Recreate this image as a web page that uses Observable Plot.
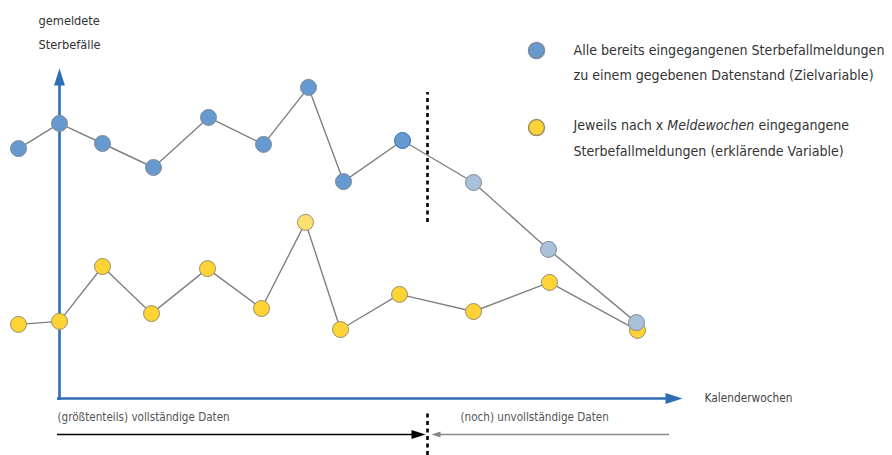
<!DOCTYPE html>
<html>
<head>
<meta charset="utf-8">
<script src="https://cdn.jsdelivr.net/npm/d3@7"></script>
<script src="https://cdn.jsdelivr.net/npm/@observablehq/plot@0.6"></script>
<style>
  html, body { margin: 0; padding: 0; background: #fff; }
  #chart svg { display: block; font-stretch: condensed; }
</style>
</head>
<body>
<div id="chart"></div>
<script>
// Calendar weeks (schematic units, 0 = origin of the axes)
const weeksBlue   = [-0.82, 0, 0.86, 1.88, 2.98, 4.08, 4.98, 5.68, 6.86, 8.28, 9.78, 11.54];
const valuesBlue  = [83.3, 91.7, 85, 77, 93.7, 84.7, 103.7, 72.3, 86, 72, 49.7, 25.3];
const weeksYellow = [-0.82, 0, 0.86, 1.84, 2.96, 4.04, 4.92, 5.62, 6.8, 8.28, 9.8, 11.56];
const valuesYellow = [24.7, 25.7, 44, 28.3, 43.3, 30, 58.7, 23, 34.7, 29, 38.7, 22.7];
// status of each week: complete data or (still) incomplete
const statusBlue   = ["c","c","c","c","c","c","c","c","h","i","i","i"];
const statusYellow = ["c","c","c","c","c","c","l","c","c","c","c","c"];

const yAxisLabel = ["gemeldete", "Sterbefälle"];
const xAxisLabel = "Kalenderwochen";
const legendBlue = ["Alle bereits eingegangenen Sterbefallmeldungen", "zu einem gegebenen Datenstand (Zielvariable)"];
const legendYellow = ["Jeweils nach x Meldewochen eingegangene", "Sterbefallmeldungen (erklärende Variable)"];
const labelComplete = "(größtenteils) vollständige Daten";
const labelIncomplete = "(noch) unvollständige Daten";

// annotation anchors (in data units)
const cutWeek = 7.36;
const axisTopValue = 110;
const axisEndWeek = 12.46;

const blue = weeksBlue.map((w, i) => ({week: w, value: valuesBlue[i], status: statusBlue[i]}));
const yellow = weeksYellow.map((w, i) => ({week: w, value: valuesYellow[i], status: statusYellow[i]}));

const blueFill = {c: "#6699cf", h: "#6699cf", i: "#a9c1da"};
const blueStroke = {c: "#7f8a96", h: "#2f6fbf", i: "#7f8a96"};
const yellowFill = {c: "#fdd335", l: "#fde072"};

// elongated triangle, tip at origin, pointing up
const headSymbol = {
  draw(ctx, size) {
    const r = Math.sqrt(size / Math.PI);
    ctx.moveTo(0, 0);
    ctx.lineTo(-0.32 * r, r);
    ctx.lineTo(0.32 * r, r);
    ctx.closePath();
  }
};

const font = "'DejaVu Sans Condensed', 'DejaVu Sans', sans-serif";
const axisBlue = "#2f6db5";

const plot = Plot.plot({
  width: 892,
  height: 455,
  marginTop: 0, marginBottom: 0, marginLeft: 0, marginRight: 0,
  x: {domain: [-1.18, 16.66], axis: null},
  y: {domain: [-19, 132.67], axis: null},
  style: {fontFamily: font, background: "#fff"},
  marks: [
    // axes
    Plot.ruleX([0], {y1: -0.7, y2: axisTopValue - 5.5, stroke: axisBlue, strokeWidth: 2.6}),
    Plot.ruleY([0], {x1: -0.04, x2: axisEndWeek - 0.3, stroke: axisBlue, strokeWidth: 2.6}),
    Plot.dot([{week: 0, value: axisTopValue}], {x: "week", y: "value", symbol: headSymbol, r: 17, rotate: 0, fill: axisBlue, stroke: null}),
    Plot.dot([{week: axisEndWeek, value: 0}], {x: "week", y: "value", symbol: headSymbol, r: 17, rotate: 90, fill: axisBlue, stroke: null}),

    // separation between complete and incomplete data
    Plot.ruleX([cutWeek], {y1: 58.7, y2: 102, stroke: "#000", strokeWidth: 2.6, strokeDasharray: "4,3.5"}),
    Plot.ruleX([cutWeek], {y1: -19, y2: -4, stroke: "#000", strokeWidth: 2.6, strokeDasharray: "4,3.5"}),

    // bottom arrows
    Plot.ruleY([-12], {x1: -0.04, x2: cutWeek - 0.25, stroke: "#000", strokeWidth: 1.6}),
    Plot.dot([{week: cutWeek - 0.04, value: -12}], {x: "week", y: "value", symbol: headSymbol, r: 14, rotate: 90, fill: "#000", stroke: null}),
    Plot.ruleY([-12], {x1: cutWeek + 0.2, x2: 12.2, stroke: "#888", strokeWidth: 1.6}),
    Plot.dot([{week: cutWeek + 0.08, value: -12}], {x: "week", y: "value", symbol: headSymbol, r: 9, rotate: -90, fill: "#888", stroke: null}),

    // series lines
    Plot.line(yellow, {x: "week", y: "value", stroke: "#808080", strokeWidth: 1.4}),
    Plot.line(blue, {x: "week", y: "value", stroke: "#808080", strokeWidth: 1.4}),
    // series points
    Plot.dot(yellow, {x: "week", y: "value", r: 8, fill: d => yellowFill[d.status], stroke: "#9a8f6a", strokeWidth: 1}),
    Plot.dot(blue, {x: "week", y: "value", r: 8, fill: d => blueFill[d.status], stroke: d => blueStroke[d.status], strokeWidth: 1}),

    // axis titles
    Plot.text(yAxisLabel, {x: () => -0.42, y: (d, i) => 126 - i * 8.3, text: d => d, textAnchor: "start", lineAnchor: "middle", fontSize: 12.7, fill: "#333"}),
    Plot.text([xAxisLabel], {x: () => 12.9, y: () => 0, text: d => d, textAnchor: "start", lineAnchor: "middle", fontSize: 11.8, fill: "#444"}),

    // legend
    Plot.dot([{week: 9.54, value: 116}], {x: "week", y: "value", r: 8, fill: blueFill.c, stroke: "#7f8a96"}),
    Plot.dot([{week: 9.54, value: 90.3}], {x: "week", y: "value", r: 8, fill: yellowFill.c, stroke: "#9a8f6a"}),
    Plot.text(legendBlue, {x: () => 10.28, y: (d, i) => 116 - i * 8.4, text: d => d, textAnchor: "start", lineAnchor: "middle", fontSize: 14.1, fill: "#333"}),
    Plot.text(legendYellow, {x: () => 10.28, y: (d, i) => 91 - i * 8.8, text: d => d, textAnchor: "start", lineAnchor: "middle", fontSize: 14.1, fill: "#333"}),

    // bottom labels
    Plot.text([labelComplete], {x: () => -0.04, y: () => -6.3, text: d => d, textAnchor: "start", lineAnchor: "middle", fontSize: 11.6, fill: "#555"}),
    Plot.text([labelIncomplete], {x: () => 8.02, y: () => -6.3, text: d => d, textAnchor: "start", lineAnchor: "middle", fontSize: 11.6, fill: "#555"})
  ]
});

// italicise "Meldewochen" in the legend
plot.querySelectorAll("text").forEach(t => {
  const s = t.textContent;
  const word = "Meldewochen";
  const k = s.indexOf(word);
  if (k >= 0 && s.startsWith("Jeweils")) {
    const parts = [s.slice(0, k), word, s.slice(k + word.length)];
    t.textContent = "";
    parts.forEach((p, j) => {
      const ts = document.createElementNS("http://www.w3.org/2000/svg", "tspan");
      ts.textContent = p;
      if (j === 1) ts.setAttribute("font-style", "italic");
      t.appendChild(ts);
    });
  }
});

document.getElementById("chart").appendChild(plot);
</script>
</body>
</html>
